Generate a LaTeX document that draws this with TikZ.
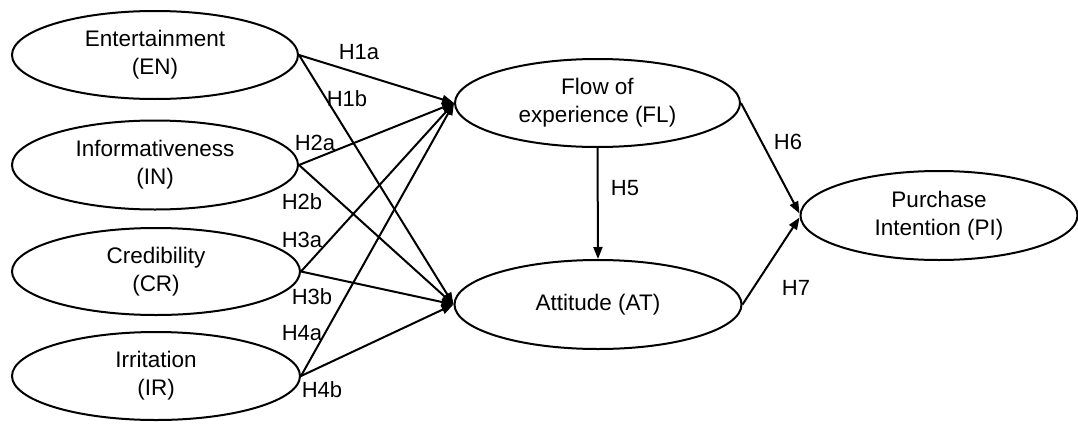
\documentclass[tikz,border=0pt]{standalone}
\usepackage{fontspec}
\setmainfont{Liberation Sans}
\usetikzlibrary{shapes.geometric,arrows.meta}
\tikzset{
  construct/.style={draw, line width=2pt, ellipse, inner sep=0pt, align=center,
    font=\fontsize{22.5}{28}\selectfont},
  hyp/.style={font=\fontsize{22}{26}\selectfont, inner sep=0pt},
  path/.style={line width=2pt, -{Triangle[length=12pt,width=9pt]}}
}
\begin{document}
\begin{tikzpicture}[x=1pt,y=-1pt]
\useasboundingbox (0,0) rectangle (1078,423);
% constructs
\node[construct, minimum width=286pt, minimum height=88pt] (EN) at (155,55) {Entertainment\\(EN)};
\node[construct, minimum width=286pt, minimum height=89pt] (IN) at (155,165) {Informativeness\\(IN)};
\node[construct, minimum width=288pt, minimum height=87pt] (CR) at (156,271.5) {Credibility\\(CR)};
\node[construct, minimum width=288pt, minimum height=88pt] (IR) at (156,376) {Irritation\\(IR)};
\node[construct, minimum width=285pt, minimum height=88pt] (FL) at (597.5,103) {Flow of\\experience (FL)};
\node[construct, minimum width=287pt, minimum height=89pt] (AT) at (598,304.5) {Attitude (AT)};
\node[construct, minimum width=277pt, minimum height=89pt] (PI) at (939,215.5) {Purchase\\Intention (PI)};
% paths
\draw[path] (EN.east) -- (FL.west);
\draw[path] (EN.east) -- (AT.west);
\draw[path] (IN.east) -- (FL.west);
\draw[path] (IN.east) -- (AT.west);
\draw[path] (CR.east) -- (FL.west);
\draw[path] (CR.east) -- (AT.west);
\draw[path] (IR.east) -- (FL.west);
\draw[path] (IR.east) -- (AT.west);
\draw[path] (FL.south) -- (AT.north);
\draw[path] (FL.east) -- ([yshift=2pt]PI.west);
\draw[path] (AT.east) -- ([yshift=-2pt]PI.west);
% labels
\node[hyp] (h1a) at (359,52) {H1a};
\node[hyp] (h1b) at (347,99) {H1b};
\node[hyp] (h2a) at (315,143) {H2a};
\node[hyp] (h2b) at (302,202) {H2b};
\node[hyp] (h3a) at (302,240) {H3a};
\node[hyp] (h3b) at (312,297) {H3b};
\node[hyp] (h4a) at (302,333) {H4a};
\node[hyp] (h4b) at (322,390) {H4b};
\node[hyp] (h5) at (625,188) {H5};
\node[hyp] (h6) at (788,142) {H6};
\node[hyp] (h7) at (796,288) {H7};
\end{tikzpicture}
\end{document}
